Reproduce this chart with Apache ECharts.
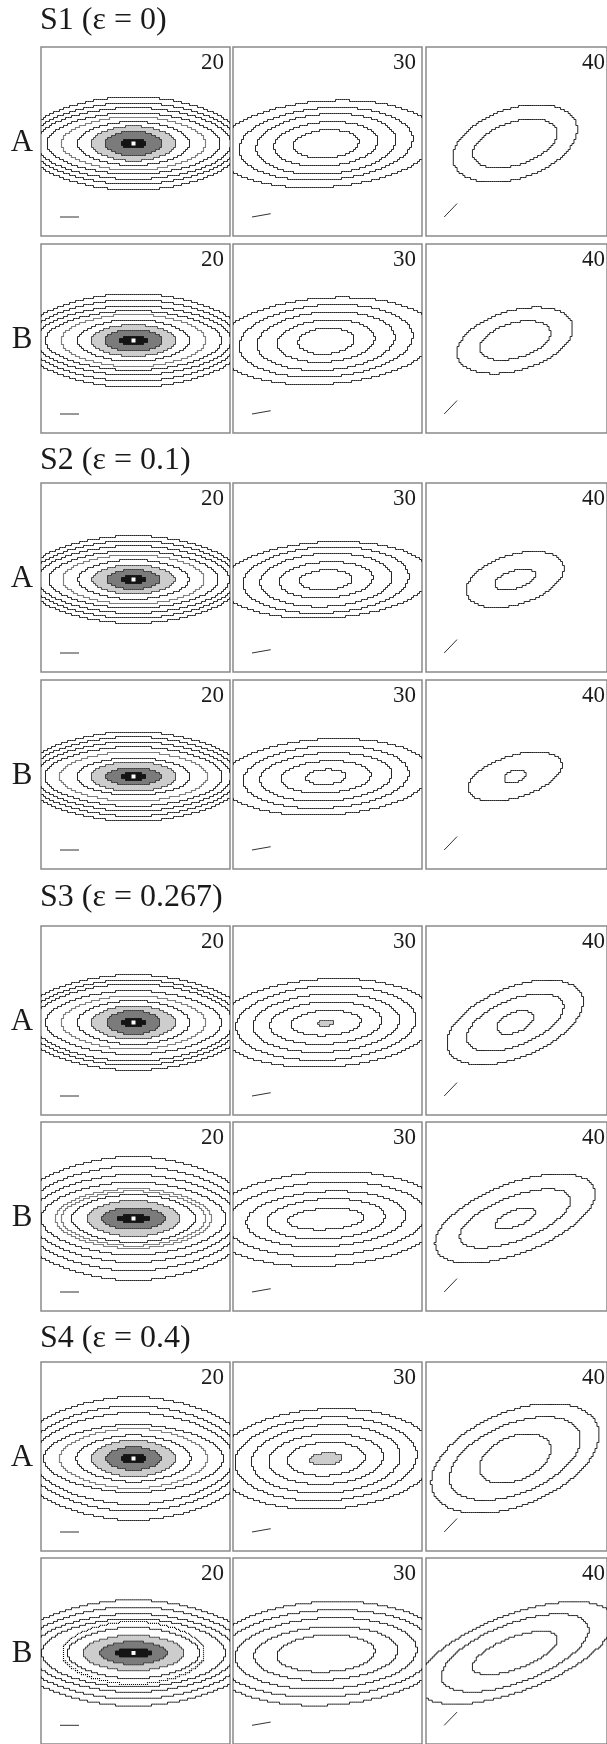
<!DOCTYPE html>
<html><head><meta charset="utf-8">
<script src="https://cdn.jsdelivr.net/npm/echarts@6/dist/echarts.min.js"></script>
<style>html,body{margin:0;padding:0;background:#fff}#c{width:607px;height:1744px}</style>
</head><body><div id="c"></div>
<script>
// ---------- data ----------
const sectionTitles = ['S1 (ε = 0)', 'S2 (ε = 0.1)', 'S3 (ε = 0.267)', 'S4 (ε = 0.4)'];
const rowLabels = ['A', 'B'];
const columnLabels = ['20', '30', '40'];
const barAngles = [0, 10, 45];            // orientation marker angle per column (deg)
const tiltAngles = [                      // contour orientation per row / column (deg)
  [0, 4, 17], [0, 4, 15], [0, 3, 16], [0, 3, 16],
  [0, 3, 21], [0, 3, 20], [0, 3, 21], [0, 3, 20]
];
const centerOffsets = [[-2, -2], [-1.5, -2.5], [-1.5, -2]]; // per column
// contours inner -> outer: [semi-major, semi-minor, level]
// level: 4 core, 3 black, 2 dark grey, 1 light grey, 0 solid contour, -1 dotted contour
const S1A_20 = [[2,2,4],[13,4.5,3],[28,12.5,2],[42,17.5,1],[56,22,0],[72,27,-1],[87,31,0],[98,36,0],[104,41,0],[110,47,0]];
const S1A_30 = [[33,14,0],[52,22,0],[70,30,0],[87,36,0],[110,43,0]];
const S1A_40 = [[45.5,21.5,0],[67,35,0]];
const S1B_20 = [[2,2,4],[14.5,4,3],[29,11,2],[43,16,1],[56,21,0],[72,26.5,-1],[88,30,0],[98,35,0],[105,41,0],[112,47,0]];
const S1B_30 = [[28,13,0],[49,21,0],[69,29,0],[87,36,0],[110,43,0]];
const S1B_40 = [[38,17.5,0],[62,30,0]];
const S2A_20 = [[2,2,4],[13,4,3],[26.5,10,2],[41.5,15,1],[55.5,20,0],[71,25,-1],[85,29,0],[96,34,0],[103,39,0],[109,44,0]];
const S2A_30 = [[26.5,10,0],[47,18,0],[66,26.5,0],[83,33,0],[105,38,0]];
const S2A_40 = [[22,9,0],[52.5,25,0]];
const S2B_20 = [[2,2,4],[13,4,3],[28,9,2],[43,15,1],[57,19,0],[74,25,-1],[89,30,0],[98,35,0],[105,40,0],[112,45,0]];
const S2B_30 = [[20,7.5,0],[45,16,0],[66,24,0],[83,31,0],[105,38,0]];
const S2B_40 = [[11.5,6,0],[50.5,21,0]];
const S3A_20 = [[2,2,4],[13,4.2,3],[27,12,2],[42,17,1],[56.5,22,0],[72,27,-1],[88,32,0],[100,39,0],[107,43,0],[115,48,0]];
const S3A_30 = [[7.7,3.3,1],[35,12.5,0],[56,21,0],[73.5,29,0],[90,37,0],[110,44,0]];
const S3A_40 = [[20,10,0],[53.5,23,0],[75,35,0]];
const S3B_20 = [[2,2,4],[16.5,4.2,3],[32,11,2],[47,18,1],[62,24,0],[72,27.5,-1],[78,30,-1],[92,36.5,0],[103,44,0],[112,52.5,0],[122,62,0]];
const S3B_30 = [[38,10.5,0],[59,20,0],[80,27.5,0],[100,37,0],[118,47,0]];
const S3B_40 = [[22,8,0],[61,22,0],[88,35,0]];
const S4A_20 = [[2,2,4],[13,5,3],[28,11.7,2],[42.5,18.3,1],[57.5,23.3,0],[73.5,30,-1],[90,34,0],[100,46,0],[109,53,0],[119,62,0]];
const S4A_30 = [[16.5,6,1],[39,16.7,0],[57.5,25,0],[74.5,34,0],[91,41.7,0],[110,50,0]];
const S4A_40 = [[39,22,0],[72,35,0],[92,47,0]];
const S4B_20 = [[2,2,4],[18.3,4.7,3],[34,11.7,2],[51,18.3,1],[66,26,0],[71,32,-1],[92,35,0],[103,40,0],[112,47,0],[122,54,0]];
const S4B_30 = [[49,18.7,0],[72,27,0],[91,36,0],[108,44,0],[120,52.5,0]];
const S4B_40 = [[47,16,0],[81,30,0],[108,39,0]];

const panelRows = [
  [S1A_20, S1A_30, S1A_40], [S1B_20, S1B_30, S1B_40],
  [S2A_20, S2A_30, S2A_40], [S2B_20, S2B_30, S2B_40],
  [S3A_20, S3A_30, S3A_40], [S3B_20, S3B_30, S3B_40],
  [S4A_20, S4A_30, S4A_40], [S4B_20, S4B_30, S4B_40]
];

// ---------- layout ----------
const colLefts = [41, 233, 426];
const rowTops = [47, 244, 483, 680, 926, 1122, 1362, 1558];
const titleYs = [21, 461, 898, 1339];
const PS = 189, H = PS / 2;
const serif = '"Liberation Serif", "DejaVu Serif", serif';

// pixelated (grid-cell) contour of an elliptic level set
function cellContour(cx, cy, a, b, thDeg, p) {
  const g = 2, th = thDeg * Math.PI / 180, c = Math.cos(th), s = Math.sin(th);
  const cols = [];
  for (let i = -48; i < 48; i++) {
    const xc = i * g + 1; let jmin = null, jmax = null;
    for (let j = -48; j < 48; j++) {
      const yc = j * g + 1, dx = xc - cx, dy = yc - cy;
      const u = (dx * c + dy * s) / a, v = (-dx * s + dy * c) / b;
      if (Math.pow(Math.abs(u), p) + v * v <= 1) { if (jmin === null) jmin = j; jmax = j; }
    }
    if (jmin !== null) cols.push([Math.max(i * g, -H), Math.min(i * g + g, H), Math.min(jmax * g + g, H), Math.max(jmin * g, -H)]);
  }
  if (!cols.length) return null;
  const top = [], bot = [];
  cols.forEach(k => { top.push([k[0], k[2]], [k[1], k[2]]); });
  for (let q = cols.length - 1; q >= 0; q--) { const k = cols[q]; bot.push([k[1], k[3]], [k[0], k[3]]); }
  const lc = cols[0][0] <= -H, rc = cols[cols.length - 1][1] >= H;
  if (lc && rc) return { closed: false, parts: [top, bot] };
  if (lc) return { closed: false, parts: [top.concat(bot)] };
  if (rc) return { closed: false, parts: [bot.concat(top)] };
  return { closed: true, parts: [top.concat(bot)] };
}

const fillColor = { 4: '#ffffff', 3: '#141414', 2: '#7b7b7b', 1: '#cdcdcd' };
const fillStroke = { 4: null, 3: '#141414', 2: '#3c3c3c', 1: '#4a4a4a' };

const grids = [], xAxes = [], yAxes = [], series = [], texts = [];
panelRows.forEach((row, r) => {
  row.forEach((contours, c) => {
    const k = grids.length;
    const left = colLefts[c], top = rowTops[r];
    grids.push({ left, top, width: PS, height: PS, show: true, borderColor: '#8a8a8a', borderWidth: 1.5, backgroundColor: 'transparent' });
    xAxes.push({ gridIndex: k, type: 'value', min: -H, max: H, show: false });
    yAxes.push({ gridIndex: k, type: 'value', min: -H, max: H, show: false });
    const off = centerOffsets[c], tilt = tiltAngles[r][c];
    const p = c === 0 ? 1.75 : 2;
    const shapes = contours.map(ct => ({ level: ct[2], geo: cellContour(off[0], off[1], ct[0], ct[1], tilt, ct[2] === 4 ? 2 : p) }));
    const order = shapes.map((_, i) => i).reverse();
    series.push({
      type: 'custom', coordinateSystem: 'cartesian2d', xAxisIndex: k, yAxisIndex: k,
      silent: true, animation: false,
      data: order.map(i => [i, 0]),
      renderItem: (params, api) => {
        const sh = shapes[api.value(0)];
        if (!sh.geo) return null;
        const lv = sh.level;
        const children = sh.geo.parts.map(pts => {
          const px = pts.map(pt => api.coord(pt));
          if (lv >= 1) {
            return { type: 'polygon', shape: { points: px }, style: { fill: fillColor[lv], stroke: fillStroke[lv], lineWidth: 1 } };
          }
          const style = { fill: null, stroke: lv === -1 ? '#000000' : '#262626', lineWidth: lv === -1 ? 1.15 : 1 };
          if (lv === -1) style.lineDash = [1, 1];
          return sh.geo.closed
            ? { type: 'polygon', shape: { points: px }, style }
            : { type: 'polyline', shape: { points: px }, style };
        });
        return { type: 'group', children };
      }
    });
    // orientation marker
    const ang = barAngles[c] * Math.PI / 180, L = 19, x0 = -H + 19, y0 = -H + 19;
    series.push({
      type: 'line', xAxisIndex: k, yAxisIndex: k, silent: true, animation: false,
      symbol: 'none', lineStyle: { color: '#333', width: 1 },
      data: [[x0, y0], [x0 + L * Math.cos(ang), y0 + L * Math.sin(ang)]]
    });
    texts.push({ type: 'text', x: Math.min(left + PS - 6, 605), y: top + 16,
      style: { text: columnLabels[c], font: '23px ' + serif, fill: '#1a1a1a', textAlign: 'right', textVerticalAlign: 'middle', align: 'right', verticalAlign: 'middle' } });
    if (c === 0) {
      texts.push({ type: 'text', x: 22, y: top + H + 1,
        style: { text: rowLabels[r % 2], font: '31px ' + serif, fill: '#1a1a1a', textAlign: 'center', textVerticalAlign: 'middle', align: 'center', verticalAlign: 'middle' } });
    }
  });
});
sectionTitles.forEach((t, i) => {
  texts.push({ type: 'text', x: 40, y: titleYs[i],
    style: { text: t, font: '32px ' + serif, fill: '#1a1a1a', textAlign: 'left', textVerticalAlign: 'middle', align: 'left', verticalAlign: 'middle' } });
});

const chart = echarts.init(document.getElementById('c'), null, { renderer: 'canvas' });
chart.setOption({
  animation: false,
  backgroundColor: '#ffffff',
  grid: grids, xAxis: xAxes, yAxis: yAxes, series,
  graphic: { elements: texts }
});
</script></body></html>
